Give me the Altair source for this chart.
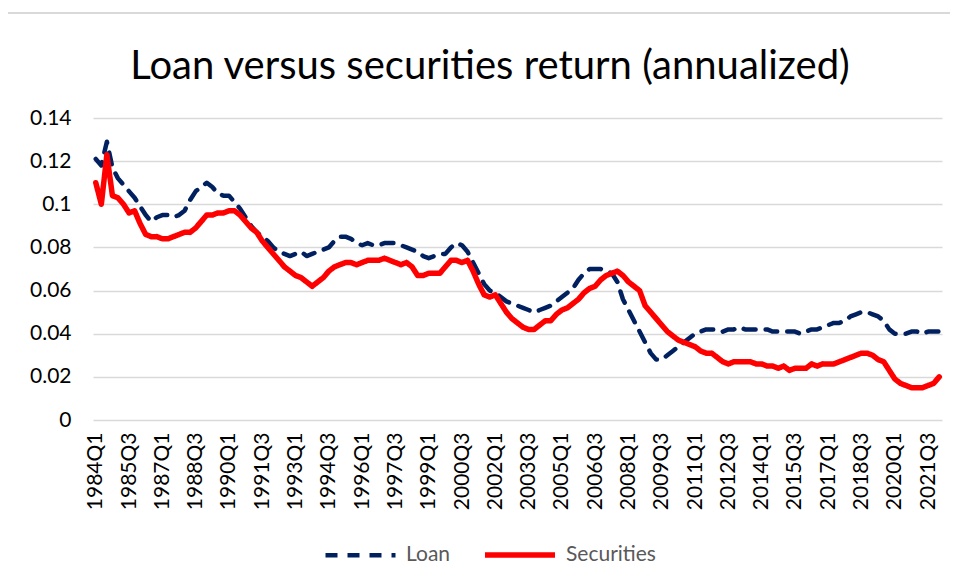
import altair as alt
import pandas as pd

quarters = [f"{1984 + i // 4}Q{i % 4 + 1}" for i in range(153)]

loan = [
    0.121, 0.118, 0.129, 0.117, 0.112, 0.109, 0.106, 0.103, 0.099, 0.095,
    0.092, 0.094, 0.095, 0.095, 0.094, 0.095, 0.097, 0.102, 0.106, 0.108,
    0.110, 0.108, 0.105, 0.104, 0.104, 0.101, 0.098, 0.094, 0.090, 0.087,
    0.085, 0.083, 0.080, 0.078, 0.077, 0.076, 0.077, 0.078, 0.076, 0.077,
    0.078, 0.079, 0.080, 0.083, 0.085, 0.085, 0.084, 0.082, 0.081, 0.082,
    0.081, 0.081, 0.082, 0.082, 0.082, 0.081, 0.080, 0.079, 0.078, 0.076,
    0.075, 0.076, 0.077, 0.077, 0.080, 0.082, 0.081, 0.078, 0.073, 0.068,
    0.063, 0.060, 0.059, 0.057, 0.055, 0.054, 0.053, 0.052, 0.051, 0.050,
    0.051, 0.052, 0.053, 0.055, 0.057, 0.059, 0.061, 0.065, 0.068, 0.070,
    0.070, 0.070, 0.069, 0.068, 0.064, 0.056, 0.051, 0.046, 0.041, 0.036,
    0.031, 0.028, 0.028, 0.030, 0.032, 0.034, 0.036, 0.038, 0.040, 0.041,
    0.042, 0.042, 0.042, 0.041, 0.042, 0.042, 0.043, 0.042, 0.042, 0.042,
    0.042, 0.042, 0.041, 0.041, 0.041, 0.041, 0.041, 0.040, 0.041, 0.042,
    0.042, 0.043, 0.044, 0.045, 0.045, 0.046, 0.048, 0.049, 0.050, 0.050,
    0.049, 0.048, 0.046, 0.042, 0.040, 0.040, 0.040, 0.041, 0.041, 0.040,
    0.041, 0.041, 0.041,
]

securities = [
    0.110, 0.100, 0.123, 0.104, 0.103, 0.100, 0.096, 0.097, 0.091, 0.086,
    0.085, 0.085, 0.084, 0.084, 0.085, 0.086, 0.087, 0.087, 0.089, 0.092,
    0.095, 0.095, 0.096, 0.096, 0.097, 0.097, 0.095, 0.092, 0.089, 0.087,
    0.083, 0.080, 0.077, 0.074, 0.071, 0.069, 0.067, 0.066, 0.064, 0.062,
    0.064, 0.066, 0.069, 0.071, 0.072, 0.073, 0.073, 0.072, 0.073, 0.074,
    0.074, 0.074, 0.075, 0.074, 0.073, 0.072, 0.073, 0.071, 0.067, 0.067,
    0.068, 0.068, 0.068, 0.071, 0.074, 0.074, 0.073, 0.074, 0.069, 0.063,
    0.058, 0.057, 0.058, 0.054, 0.050, 0.047, 0.045, 0.043, 0.042, 0.042,
    0.044, 0.046, 0.046, 0.049, 0.051, 0.052, 0.054, 0.056, 0.059, 0.061,
    0.062, 0.065, 0.067, 0.068, 0.069, 0.067, 0.064, 0.062, 0.060, 0.053,
    0.050, 0.047, 0.044, 0.041, 0.039, 0.037, 0.036, 0.035, 0.034, 0.032,
    0.031, 0.031, 0.029, 0.027, 0.026, 0.027, 0.027, 0.027, 0.027, 0.026,
    0.026, 0.025, 0.025, 0.024, 0.025, 0.023, 0.024, 0.024, 0.024, 0.026,
    0.025, 0.026, 0.026, 0.026, 0.027, 0.028, 0.029, 0.030, 0.031, 0.031,
    0.030, 0.028, 0.027, 0.023, 0.019, 0.017, 0.016, 0.015, 0.015, 0.015,
    0.016, 0.017, 0.020,
]

series_names = ["Loan", "Securities"]
series_colors = ["#002060", "#FF0000"]
tick_labels = quarters[::6]
y_ticks = [0, 0.02, 0.04, 0.06, 0.08, 0.10, 0.12, 0.14]
title_text = "Loan versus securities return (annualized)"

df = pd.DataFrame({
    "quarter": quarters + quarters,
    "value": loan + securities,
    "series": [series_names[0]] * len(loan) + [series_names[1]] * len(securities),
})

FONT = "Lato"

lines = alt.Chart(df).mark_line(strokeCap="round", strokeJoin="round").encode(
    x=alt.X("quarter:O", sort=quarters,
            axis=alt.Axis(values=tick_labels, labelAngle=-90, title=None,
                          labelFontSize=21, labelFont=FONT, labelColor="#000000",
                          labelPadding=12, ticks=False, domain=False, grid=False)),
    y=alt.Y("value:Q", scale=alt.Scale(domain=[0, 0.14], nice=False, zero=True),
            axis=alt.Axis(values=y_ticks, title=None,
                          labelExpr="datum.value == 0 ? '0' : format(datum.value, '.2~f')",
                          labelFontSize=21, labelFont=FONT, labelColor="#000000",
                          labelPadding=22, ticks=False, domain=False,
                          grid=True, gridColor="#D9D9D9", gridWidth=1.5)),
    color=alt.Color("series:N",
                    scale=alt.Scale(domain=series_names, range=series_colors),
                    legend=alt.Legend(title=None)),
    strokeDash=alt.StrokeDash("series:N",
                              scale=alt.Scale(domain=series_names, range=[[12, 10], [1, 0]]),
                              legend=alt.Legend(title=None)),
    strokeWidth=alt.StrokeWidth("series:N",
                                scale=alt.Scale(domain=series_names, range=[4.5, 5.5]),
                                legend=None),
)

border = alt.Chart(df).mark_rule(color="#D9D9D9", strokeWidth=2).encode(
    x=alt.value(-93), x2=alt.value(865), y=alt.value(-105)
)

title_df = pd.DataFrame({"t": [title_text]})
title = alt.Chart(title_df).mark_text(
    fontSize=40, font=FONT, color="#000000", align="center", baseline="alphabetic"
).encode(x=alt.value(397), y=alt.value(-39), text="t:N")

chart = alt.layer(border, title, lines).properties(
    width=849,
    height=302,
    autosize=alt.AutoSizeParams(type="none"),
    padding={"left": 85, "top": 110, "right": 8, "bottom": 155},
).configure_view(stroke=None).configure_legend(
    orient="none", legendX=230, legendY=399, direction="horizontal",
    symbolType="stroke", symbolSize=4900, symbolStrokeWidth=5,
    labelFontSize=21, labelFont=FONT, labelColor="#595959",
    labelOffset=8, columnPadding=23,
)

chart.save("out.html", embed_options={"renderer": "svg", "actions": False})
